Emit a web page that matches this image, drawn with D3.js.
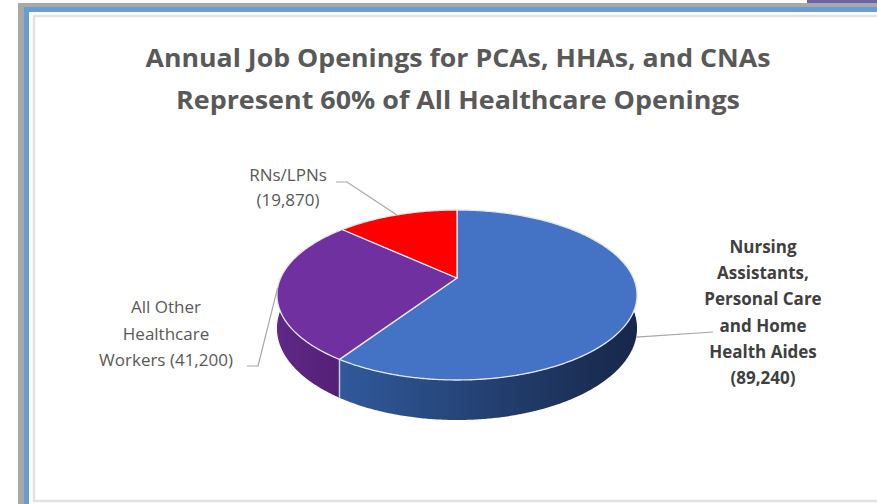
<!DOCTYPE html>
<html>
<head>
<meta charset="utf-8">
<script src="https://cdn.jsdelivr.net/npm/d3@7"></script>
<style>
  body { margin: 0; background: #fff; }
  text { font-family: "Open Sans", "Liberation Sans", sans-serif; }
</style>
</head>
<body>
<svg id="chart" width="877" height="504"></svg>
<script>
// chart values
const categories = ["Nursing Assistants, Personal Care and Home Health Aides", "All Other Healthcare Workers", "RNs/LPNs"];
const openings = [89240, 41200, 19870];
const labelLines = [
  ["Nursing", "Assistants,", "Personal Care", "and Home", "Health Aides", "(89,240)"],
  ["All Other", "Healthcare", "Workers (41,200)"],
  ["RNs/LPNs", "(19,870)"]
];
const titleLines = ["Annual Job Openings for PCAs, HHAs, and CNAs", "Represent 60% of All Healthcare Openings"];

const topColours = ["#4472c4", "#7030a0", "#ff0000"];

const svg = d3.select("#chart");

// outer frame (screenshot border)
svg.append("rect").attr("x", 18).attr("y", 3).attr("width", 870).attr("height", 510).attr("fill", "#a8a8a8");
svg.append("rect").attr("x", 24).attr("y", 7).attr("width", 870).attr("height", 510).attr("fill", "#6a9bd1");
svg.append("rect").attr("x", 29).attr("y", 12).attr("width", 870).attr("height", 510).attr("fill", "#ffffff");
svg.append("rect").attr("x", 34).attr("y", 16).attr("width", 900).attr("height", 485)
  .attr("fill", "none").attr("stroke", "#e2e2e2").attr("stroke-width", 2.5);
svg.append("rect").attr("x", 807).attr("y", 0).attr("width", 70).attr("height", 3).attr("fill", "#6b66a9");

// title
svg.selectAll("text.title")
  .data(titleLines)
  .enter()
  .append("text")
  .attr("class", "title")
  .attr("x", 458)
  .attr("y", (d, i) => 67 + i * 42)
  .attr("text-anchor", "middle")
  .attr("textLength", (d, i) => i === 0 ? 625 : 564)
  .attr("lengthAdjust", "spacingAndGlyphs")
  .style("font-size", "24.5px")
  .style("font-weight", "bold")
  .style("fill", "#595959")
  .text(d => d);

// perspective pie geometry
const cx = 457, cy = 278, sx = 176.4, sy = 81.6, persp = 0.2, depth = 32;

function proj(a, drop) {
  const den = 1 + persp * Math.cos(a);
  return [cx + sx * Math.sin(a) / den, cy + (-sy * Math.cos(a) + (drop || 0)) / den];
}

function arcPts(a0, a1, drop) {
  const n = Math.max(2, Math.ceil((a1 - a0) / (Math.PI / 360)));
  return d3.range(n + 1).map(i => proj(a0 + (a1 - a0) * i / n, drop));
}

const slices = d3.pie().sort(null).value(d => d)(openings);
const line = d3.line();

const defs = svg.append("defs");
const sideGrads = [
  ["sideBlue", 340, 637, "#30599b", "#172748"],
  ["sidePurple", 277, 345, "#5f2887", "#531f75"],
  ["sideRed", 277, 637, "#c00000", "#900000"]
];
sideGrads.forEach(g => {
  const lg = defs.append("linearGradient").attr("id", g[0])
    .attr("gradientUnits", "userSpaceOnUse")
    .attr("x1", g[1]).attr("x2", g[2]).attr("y1", 0).attr("y2", 0);
  lg.append("stop").attr("offset", 0).attr("stop-color", g[3]);
  lg.append("stop").attr("offset", 1).attr("stop-color", g[4]);
});

// sides (front half only)
const sideG = svg.append("g");
slices.forEach((s, i) => {
  const s0 = Math.max(s.startAngle, Math.PI / 2);
  const s1 = Math.min(s.endAngle, 3 * Math.PI / 2);
  if (s1 <= s0) return;
  const pts = arcPts(s0, s1, 0).concat(arcPts(s0, s1, depth).reverse());
  sideG.append("path")
    .attr("d", line(pts) + "Z")
    .attr("fill", "url(#" + sideGrads[i][0] + ")");
});

// edge where two slices meet on the side
slices.forEach(s => {
  const a = s.endAngle;
  if (a > Math.PI / 2 && a < 3 * Math.PI / 2) {
    sideG.append("path")
      .attr("d", line([proj(a, 0), proj(a, depth)]))
      .attr("stroke", "#c4cbe0").attr("stroke-width", 1.5);
  }
});

// top faces
const topG = svg.append("g");
slices.forEach((s, i) => {
  const pts = [[cx, cy]].concat(arcPts(s.startAngle, s.endAngle, 0));
  topG.append("path")
    .attr("d", line(pts) + "Z")
    .attr("fill", topColours[i])
    .attr("stroke", "#e4e8f2")
    .attr("stroke-width", 1.3)
    .attr("stroke-linejoin", "round");
});

// data labels with leader lines
const labelLayout = [
  { x: 763, y: 253, step: 26.2, weight: "bold", colour: "#404040",
    leader: [[713, 332]], drop: depth },
  { x: 166, y: 313, step: 26.5, weight: "normal", colour: "#595959",
    leader: [[247, 366], [258, 366]], drop: 0 },
  { x: 288, y: 181, step: 25, weight: "normal", colour: "#595959",
    leader: [[336, 182], [347, 182]], drop: 0 }
];

slices.forEach((s, i) => {
  const lay = labelLayout[i];
  const mid = (s.startAngle + s.endAngle) / 2;
  const pts = lay.leader.concat([proj(mid, lay.drop)]);
  svg.append("path")
    .attr("d", line(pts))
    .attr("fill", "none")
    .attr("stroke", "#a6a6a6")
    .attr("stroke-width", 1.2);

  svg.selectAll("text.lab" + i)
    .data(labelLines[i])
    .enter()
    .append("text")
    .attr("class", "lab" + i)
    .attr("x", lay.x)
    .attr("y", (d, j) => lay.y + j * lay.step)
    .attr("text-anchor", "middle")
    .style("font-size", "17px")
    .style("font-weight", lay.weight)
    .style("fill", lay.colour)
    .text(d => d);
});
</script>
</body>
</html>
